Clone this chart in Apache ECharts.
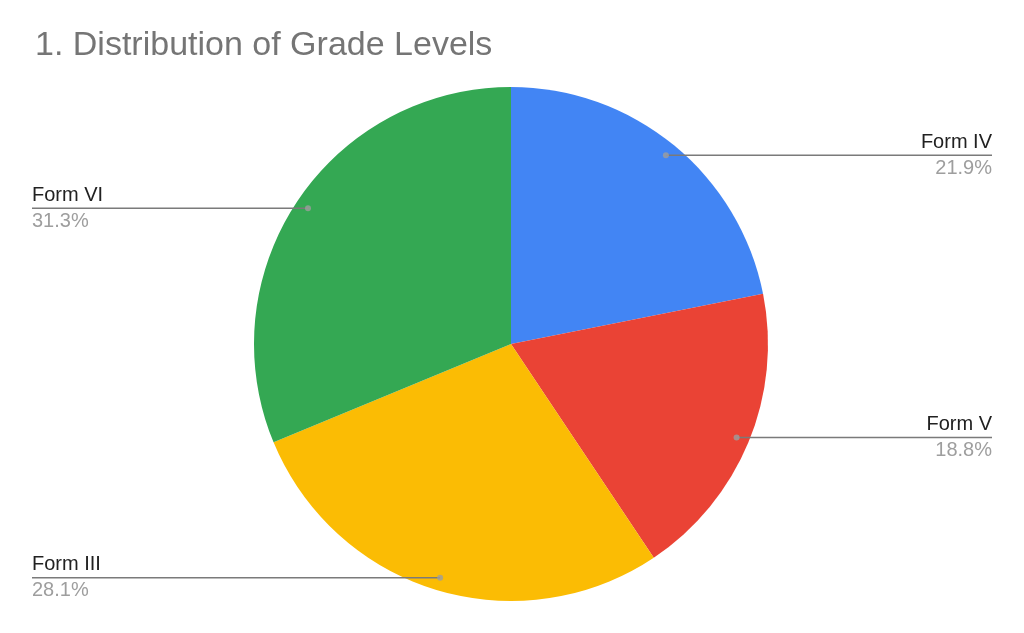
<!DOCTYPE html>
<html>
<head>
<meta charset="utf-8">
<script src="https://cdn.jsdelivr.net/npm/echarts@6/dist/echarts.min.js"></script>
<style>html,body{margin:0;padding:0;background:#fff}#c{width:1024px;height:633px}</style>
</head>
<body>
<div id="c"></div>
<script>
// ---- data ----
const titleText = '1. Distribution of Grade Levels';
const categories = ['Form IV', 'Form V', 'Form III', 'Form VI'];
const values = [7, 6, 9, 10];
const colors = ['#4285F4', '#EA4335', '#FBBC04', '#34A853'];

// ---- layout / style ----
const FONT = '"Liberation Sans", Arial, Helvetica, sans-serif';
const CENTER = [511, 344];
const R = 257;
const DOT_RATIO = 0.95;

const total = values.reduce((a, b) => a + b, 0);
const pieData = categories.map((name, i) => ({ name, value: values[i], itemStyle: { color: colors[i] } }));
const dotData = [];
let cum = 0;
values.forEach(v => { dotData.push([DOT_RATIO, cum + v / 2]); cum += v; });

const chart = echarts.init(document.getElementById('c'), null, { renderer: 'canvas' });
chart.setOption({
  backgroundColor: '#ffffff',
  animation: false,
  title: {
    text: titleText, left: 30, top: 24,
    textStyle: { fontFamily: FONT, fontSize: 34, fontWeight: 'normal', color: '#757575' }
  },
  polar: { center: CENTER, radius: R },
  angleAxis: { type: 'value', min: 0, max: total, startAngle: 90, clockwise: true, show: false },
  radiusAxis: { type: 'value', min: 0, max: 1, show: false },
  series: [
    {
      type: 'pie', center: CENTER, radius: R, startAngle: 90, clockwise: true,
      silent: true, z: 1, label: { show: false }, labelLine: { show: false },
      data: pieData
    },
    {
      type: 'pie', center: CENTER, radius: R * DOT_RATIO, startAngle: 90, clockwise: true,
      silent: true, avoidLabelOverlap: false, z: 5,
      itemStyle: { color: 'rgba(0,0,0,0)' },
      data: categories.map((name, i) => ({ name, value: values[i] })),
      label: {
        show: true, position: 'outside', alignTo: 'edge', edgeDistance: 32,
        fontFamily: FONT,
        formatter: p => '{n|' + p.name + '}\n{p|' + (p.value / total * 100).toFixed(1) + '%}',
        rich: {
          n: { fontFamily: FONT, fontSize: 20, color: '#212121', lineHeight: 26 },
          p: { fontFamily: FONT, fontSize: 20, color: '#9e9e9e', lineHeight: 26 }
        }
      },
      labelLine: { show: true, length: 0, length2: 10, lineStyle: { color: '#7a7a7a', width: 1.5 } },
      labelLayout: function (params) {
        const r = params.labelRect;
        const idx = params.dataIndex;
        if (!r || idx == null || !dotData[idx]) return {};
        let s;
        try { s = chart.convertToPixel({ polarIndex: 0 }, dotData[idx]); } catch (e) { s = null; }
        if (!s) {
          const pts = params.labelLinePoints;
          if (!pts) return {};
          s = pts[0];
        }
        const isLeft = r.x + r.width / 2 < s[0];
        const endX = isLeft ? r.x : r.x + r.width;
        return { labelLinePoints: [[s[0], s[1]], [endX, s[1]]] };
      }
    },
    {
      type: 'scatter', coordinateSystem: 'polar', silent: true,
      symbol: 'circle', symbolSize: 6, z: 10,
      itemStyle: { color: '#9e9e9e' },
      data: dotData
    }
  ]
});
</script>
</body>
</html>
